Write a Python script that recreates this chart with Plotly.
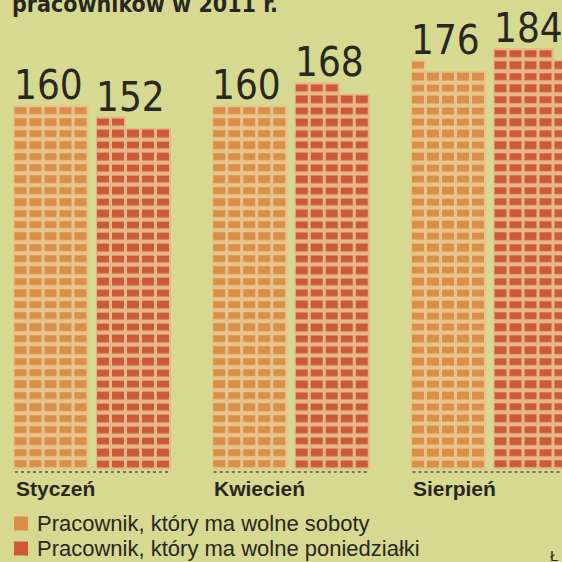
import math
import plotly.graph_objects as go

# ---------------- data ----------------
months = ["Styczeń", "Kwiecień", "Sierpień"]
hours_saturday = [160, 160, 176]   # Pracownik, który ma wolne soboty
hours_monday = [152, 168, 184]     # Pracownik, który ma wolne poniedziałki
series_names = ["Pracownik, który ma wolne soboty",
                "Pracownik, który ma wolne poniedziałki"]
title_text = "pracowników w 2011 r."
source_text = "Ł"

# ---------------- layout constants ----------------
W, H = 562, 562
PER_ROW = 5            # squares per row (1 square = 1 hour)
COL_PX = 15.0          # horizontal pitch of a square, px
ROW_PX = 11.39         # vertical pitch of a row, px
X_MIN = -1.4
ROW0_PX = 464.0        # pixel centre of bottom row
GROUP_STEP = 13.25     # columns between month groups
BAR_STEP = 5.5         # columns between the two bars of a month

BG = "#d6d98f"
SAT = "#d98f49"
MON = "#cc5a36"
HALO_SAT = "#e8c48b"
HALO_MON = "#e6b789"
TEXT = "#29281f"
NARROW = "Liberation Sans Narrow, DejaVu Sans Condensed, sans-serif"
SANS = "Liberation Sans, Arial, sans-serif"

x_range = [X_MIN, X_MIN + W / COL_PX]
y_top = ROW0_PX / ROW_PX
y_range = [y_top - H / ROW_PX, y_top]
BASE_ROW = y_top - 472.0 / ROW_PX


def grid(v):
    rows = math.ceil(v / PER_ROW)
    return [[1 if r * PER_ROW + c < v else None for c in range(PER_ROW)]
            for r in range(rows)]


fig = go.Figure()
annotations = []

series = [(hours_saturday, SAT, HALO_SAT), (hours_monday, MON, HALO_MON)]

for g, month in enumerate(months):
    for s, (vals, col, halo) in enumerate(series):
        v = vals[g]
        x0 = g * GROUP_STEP + s * BAR_STEP
        z = grid(v)
        # light halo under the squares
        fig.add_trace(go.Heatmap(z=z, x0=x0, dx=1, y0=0, dy=1,
                                 colorscale=[[0, halo], [1, halo]], zmin=0, zmax=1,
                                 showscale=False, xgap=0, ygap=0, hoverinfo="skip"))
        # the squares
        fig.add_trace(go.Heatmap(z=z, x0=x0, dx=1, y0=0, dy=1,
                                 colorscale=[[0, col], [1, col]], zmin=0, zmax=1,
                                 showscale=False, xgap=3, ygap=4.2, hoverinfo="skip"))
        annotations.append(dict(
            x=x0 - 0.5, y=len(z) - 0.5, xref="x", yref="y",
            xanchor="left", yanchor="bottom", yshift=-5, xshift=-2,
            text=str(v), showarrow=False,
            font=dict(family=NARROW, size=40, color=TEXT)))
    gx0 = g * GROUP_STEP
    fig.add_trace(go.Scatter(
        x=[gx0 - 0.4, gx0 + BAR_STEP + 4.4], y=[BASE_ROW, BASE_ROW],
        mode="lines", line=dict(color="#75745f", width=2, dash="dot"),
        hoverinfo="skip", showlegend=False))
    annotations.append(dict(
        x=gx0 - 0.5, y=BASE_ROW, xref="x", yref="y",
        xanchor="left", yanchor="top", yshift=-3,
        text="<b>%s</b>" % month, showarrow=False,
        font=dict(family=SANS, size=21, color=TEXT)))

# title (cropped at the top, as in the reference)
annotations.append(dict(
    x=10 / W, y=1 - 19 / H, xref="paper", yref="paper",
    xanchor="left", yanchor="bottom",
    text="<b>%s</b>" % title_text, showarrow=False,
    font=dict(family=NARROW, size=23, color=TEXT)))

# legend (manual)
shapes = []
for i, (name, col) in enumerate(zip(series_names, [SAT, MON])):
    cy = 523.5 + 25 * i
    shapes.append(dict(type="rect", xref="paper", yref="paper",
                       x0=14 / W, x1=28 / W,
                       y0=1 - (cy + 7) / H, y1=1 - (cy - 7) / H,
                       fillcolor=col, line=dict(width=0)))
    annotations.append(dict(
        x=35 / W, y=1 - cy / H, xref="paper", yref="paper",
        xanchor="left", yanchor="middle", text=name, showarrow=False,
        font=dict(family=SANS, size=22, color=TEXT)))

annotations.append(dict(
    x=548 / W, y=1 - 555 / H, xref="paper", yref="paper",
    xanchor="left", yanchor="middle", text=source_text, showarrow=False,
    font=dict(family=SANS, size=15, color=TEXT)))

fig.update_layout(
    width=W, height=H,
    margin=dict(l=0, r=0, t=0, b=0),
    paper_bgcolor=BG, plot_bgcolor=BG,
    showlegend=False,
    xaxis=dict(range=x_range, visible=False, fixedrange=True),
    yaxis=dict(range=y_range, visible=False, fixedrange=True),
    annotations=annotations,
    shapes=shapes,
)

fig.write_html("out.html",
               config={"displayModeBar": False},
               post_script="document.body.style.margin='0';"
                           "document.body.style.overflow='hidden';")
